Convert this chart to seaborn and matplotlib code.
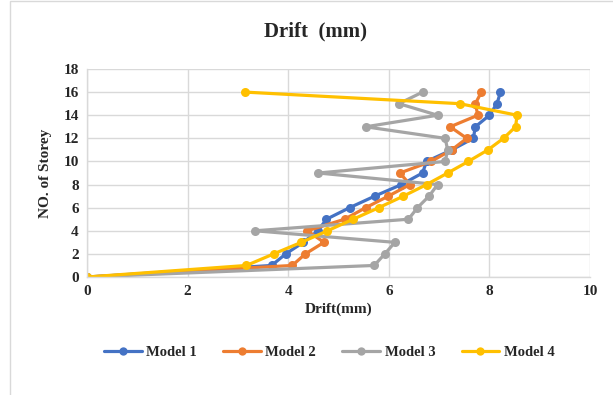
import matplotlib
matplotlib.use("Agg")
import matplotlib.pyplot as plt
import seaborn as sns
import pandas as pd
from matplotlib.patches import Rectangle

storeys = list(range(17))
model1 = [0, 3.67, 3.95, 4.30, 4.59, 4.76, 5.22, 5.72, 6.25, 6.67, 6.75, 7.25, 7.68, 7.72, 8.00, 8.15, 8.22]
model2 = [0, 4.08, 4.34, 4.71, 4.38, 5.12, 5.54, 5.99, 6.42, 6.22, 6.84, 7.25, 7.55, 7.22, 7.77, 7.72, 7.84]
model3 = [0, 5.71, 5.92, 6.12, 3.34, 6.39, 6.57, 6.80, 6.97, 4.60, 7.12, 7.17, 7.12, 5.54, 6.97, 6.20, 6.67]
model4 = [0, 3.17, 3.71, 4.26, 4.78, 5.29, 5.80, 6.29, 6.75, 7.17, 7.58, 7.97, 8.28, 8.52, 8.55, 7.41, 3.15]
model_names = ["Model 1", "Model 2", "Model 3", "Model 4"]
colors = ["#4472C4", "#ED7D31", "#A5A5A5", "#FFC000"]

rows = []
for name, vals in zip(model_names, [model1, model2, model3, model4]):
    for s, v in zip(storeys, vals):
        rows.append({"Model": name, "Drift": v, "Storey": s})
df = pd.DataFrame(rows)

sns.set_theme(style="white")
plt.rcParams['font.family'] = ['Liberation Serif', 'DejaVu Serif']

fig = plt.figure(figsize=(6.13, 3.95), dpi=100)
ax = fig.add_axes([0.142, 0.2987, 0.8205, 0.5266])

sns.lineplot(data=df, x="Drift", y="Storey", hue="Model", palette=colors,
             sort=False, estimator=None, orient="y", marker="o",
             markersize=6.5, markeredgewidth=0, linewidth=2.3, ax=ax, legend=True)

ax.set_xlim(0, 10)
ax.set_ylim(0, 18)
ax.set_xticks(range(0, 11, 2))
ax.set_yticks(range(0, 19, 2))
ax.grid(True, color="#D9D9D9", linewidth=1)
ax.set_axisbelow(True)
for side in ["top", "right"]:
    ax.spines[side].set_visible(False)
for side in ["left", "bottom"]:
    ax.spines[side].set_color("#D9D9D9")
    ax.spines[side].set_linewidth(1)
ax.tick_params(axis="both", length=0, labelsize=11, pad=6)
for lab in ax.get_xticklabels() + ax.get_yticklabels():
    lab.set_fontweight("bold")
ax.set_xlabel("Drift(mm)", fontsize=11, fontweight="bold", labelpad=3)
ax.set_ylabel("NO. of Storey", fontsize=11, fontweight="bold", labelpad=8)

fig.suptitle("Drift  (mm)", x=0.515, y=0.945, fontsize=15, fontweight="bold")

handles, labels = ax.get_legend_handles_labels()
ax.get_legend().remove()
for h in handles:
    h.set_markersize(6)
leg = fig.legend(handles, labels, loc="center", bbox_to_anchor=(0.537, 0.108),
                 ncol=4, frameon=False, fontsize=10.5, handlelength=2.6,
                 columnspacing=1.8, handletextpad=0.3)
for t in leg.get_texts():
    t.set_fontweight("bold")

fig.patches.append(Rectangle((0.016, -0.05), 1.2, 1.047, transform=fig.transFigure,
                             fill=False, edgecolor="#D9D9D9", linewidth=1))

fig.savefig("out.png", dpi=100)
